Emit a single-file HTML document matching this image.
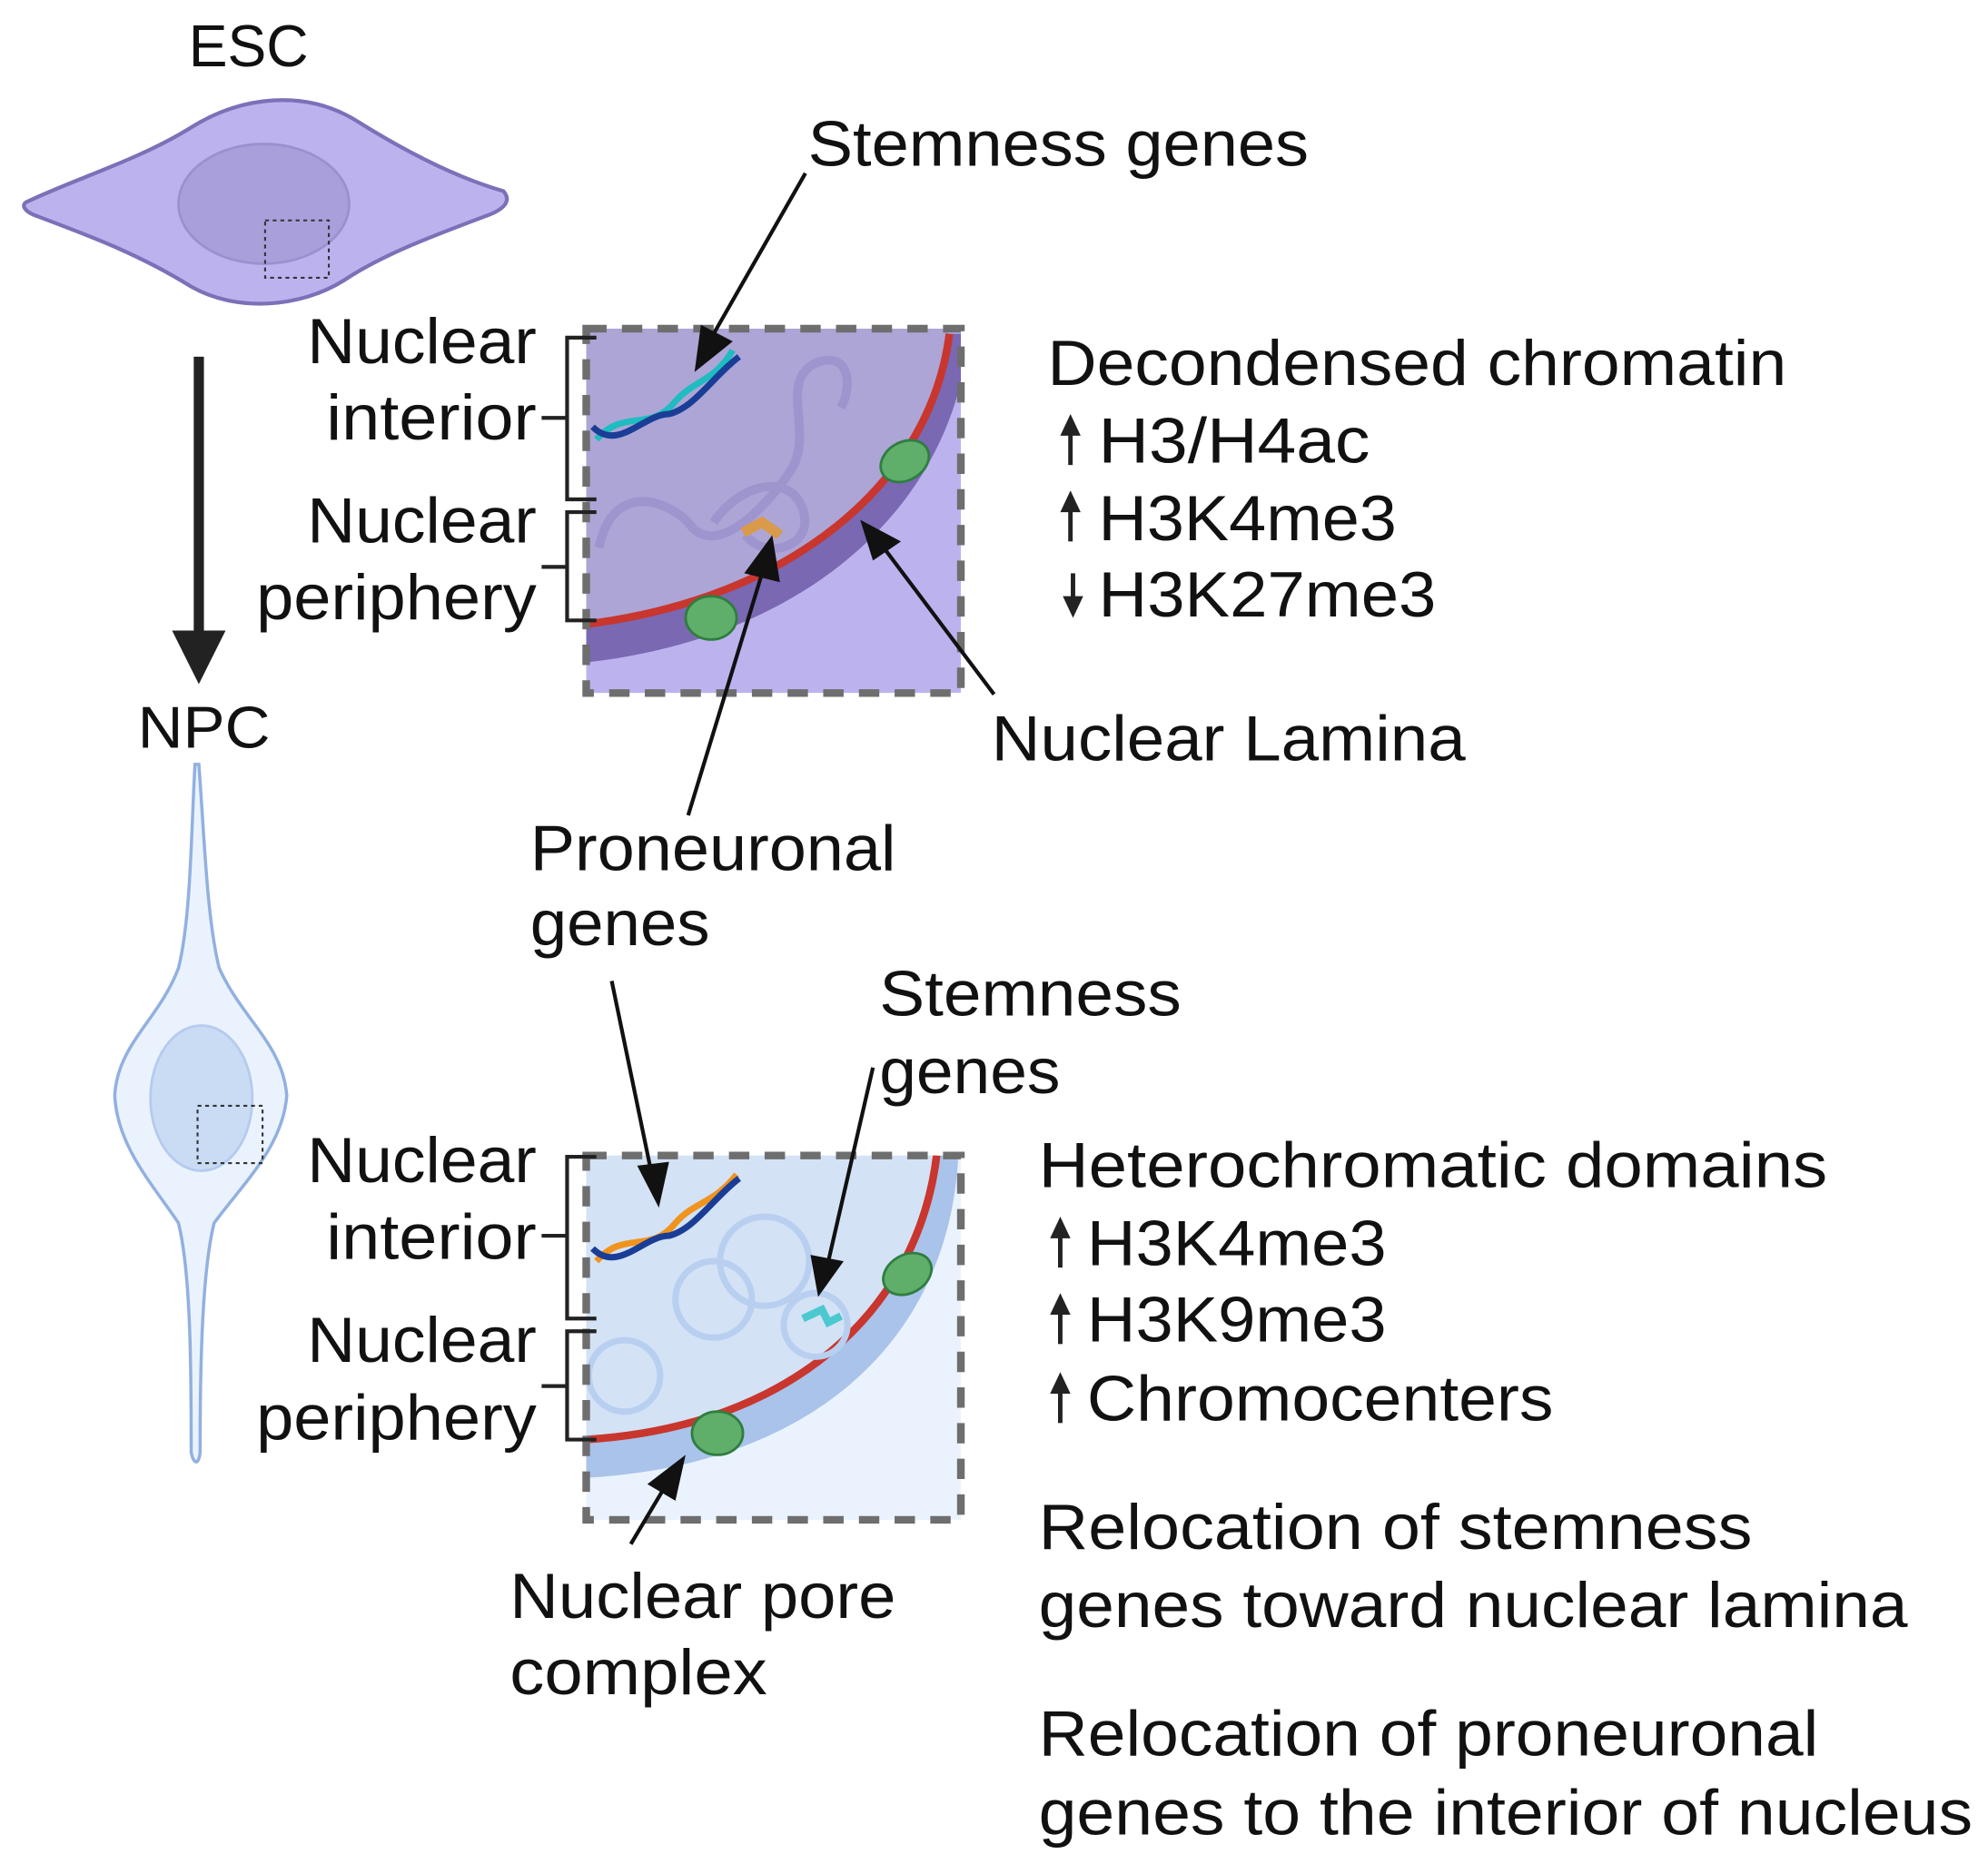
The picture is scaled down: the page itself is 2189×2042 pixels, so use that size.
<!DOCTYPE html>
<html><head><meta charset="utf-8"><style>
html,body{margin:0;padding:0;background:#fff;}
svg{display:block;}
text{font-family:"Liberation Sans",sans-serif;fill:#111;}
</style></head><body>
<svg width="2189" height="2042" viewBox="0 0 1560 1455.3" xmlns="http://www.w3.org/2000/svg">
<defs>
<clipPath id="c1"><rect x="460" y="258" width="294" height="286"/></clipPath>
<clipPath id="c2"><rect x="460" y="907" width="294" height="286"/></clipPath>
</defs>

<!-- ESC -->
<text x="148" y="52" font-size="46" textLength="94" lengthAdjust="spacingAndGlyphs">ESC</text>
<path d="M22,158 C60,140 110,125 150,100 C190,75 240,70 280,95 C320,120 360,140 395,150 C402,158 395,165 380,170 C340,185 300,200 270,220 C235,242 185,245 150,225 C110,200 70,185 30,170 C18,166 16,160 22,158Z" fill="#bcb3ee" stroke="#7d70b8" stroke-width="3"/>
<ellipse cx="207" cy="160" rx="67" ry="47" fill="#a99fdb" stroke="#9b90d0" stroke-width="2"/>
<rect x="208" y="173" width="50" height="45" fill="none" stroke="#333" stroke-width="1.5" stroke-dasharray="3,3"/>

<line x1="156" y1="280" x2="156" y2="500" stroke="#222" stroke-width="8"/>
<polygon points="135,495 177,495 156,537" fill="#222"/>

<text x="108" y="587" font-size="46" textLength="104" lengthAdjust="spacingAndGlyphs">NPC</text>
<path d="M153,600 C150,650 150,720 140,760 C125,800 92,820 90,860 C92,900 120,930 140,960 C150,1000 150,1080 150,1140 C152,1150 156,1150 157,1140 C157,1080 158,1000 168,960 C190,930 222,900 225,860 C222,820 190,800 172,760 C162,720 160,650 156,600Z" fill="#eaf3fd" stroke="#92b0e0" stroke-width="2.5"/>
<ellipse cx="158" cy="862" rx="40" ry="57" fill="#c9dcf4" stroke="#b5cbee" stroke-width="2"/>
<rect x="155" y="868" width="51" height="45" fill="none" stroke="#333" stroke-width="1.5" stroke-dasharray="3,3"/>

<!-- TOP BOX -->
<g clip-path="url(#c1)">
<rect x="460" y="258" width="294" height="286" fill="#bcb3ee"/>
<path d="M460,258 L745,258 C730,380 620,470 460,490Z" fill="#ada5d6"/>
<path d="M460,490 C620,470 730,380 745,262 L760,262 C750,390 640,500 460,520Z" fill="#7a68b3"/>
<path d="M460,490 C620,470 730,380 745,262" fill="none" stroke="#c8362e" stroke-width="6"/>
<path d="M470,430 C480,380 520,390 540,410 C560,440 600,400 620,370 C640,340 610,300 640,285 C665,275 670,300 660,320 M560,410 C580,380 620,370 630,400 C640,430 600,440 585,420" fill="none" stroke="#9a90cc" stroke-width="7" opacity=".8"/>
<path d="M468,345 C490,320 510,340 530,315 C545,298 560,300 575,275" fill="none" stroke="#1fbcc0" stroke-width="5"/>
<path d="M465,335 C485,355 505,325 525,325 C545,320 560,295 580,280" fill="none" stroke="#1a3d96" stroke-width="5"/>
<path d="M583,418 L598,410 L612,420" fill="none" stroke="#d99a4a" stroke-width="8"/>
<g fill="#5fae6a" stroke="#2f7d40" stroke-width="2"><ellipse cx="710" cy="362" rx="20" ry="15" transform="rotate(-30 710 362)"/><ellipse cx="558" cy="485" rx="20" ry="17"/></g>
</g>
<rect x="460" y="258" width="294" height="286" fill="none" stroke="#6e6e6e" stroke-width="6" stroke-dasharray="16,12"/>

<g font-size="50" text-anchor="end" lengthAdjust="spacingAndGlyphs">
<text x="421" y="285" textLength="180" lengthAdjust="spacingAndGlyphs">Nuclear</text>
<text x="421" y="345" textLength="165" lengthAdjust="spacingAndGlyphs">interior</text>
<text x="421" y="426" textLength="180" lengthAdjust="spacingAndGlyphs">Nuclear</text>
<text x="421" y="486" textLength="220" lengthAdjust="spacingAndGlyphs">periphery</text>
</g>
<path d="M468,265 H445 V392 H468 M445,328 H425 M468,402 H445 V487 H468 M445,445 H425" fill="none" stroke="#222" stroke-width="3"/>

<line x1="632" y1="136" x2="560" y2="262" stroke="#111" stroke-width="3"/>
<polygon points="545,292 550,255 575,268" fill="#111"/>
<line x1="540" y1="640" x2="598" y2="450" stroke="#111" stroke-width="3"/>
<polygon points="606,420 584,450 612,457" fill="#111"/>
<line x1="780" y1="545" x2="695" y2="432" stroke="#111" stroke-width="3"/>
<polygon points="675,408 685,440 707,425" fill="#111"/>

<g font-size="50">
<text x="634" y="130" textLength="393" lengthAdjust="spacingAndGlyphs">Stemness genes</text>
<text x="822" y="302" textLength="580" lengthAdjust="spacingAndGlyphs">Decondensed chromatin</text>
<text x="862" y="363" textLength="213" lengthAdjust="spacingAndGlyphs">H3/H4ac</text>
<text x="862" y="424" textLength="234" lengthAdjust="spacingAndGlyphs">H3K4me3</text>
<text x="862" y="484" textLength="265" lengthAdjust="spacingAndGlyphs">H3K27me3</text>
<text x="778" y="597" textLength="372" lengthAdjust="spacingAndGlyphs">Nuclear Lamina</text>
<text x="416" y="683" textLength="287" lengthAdjust="spacingAndGlyphs">Proneuronal</text>
<text x="416" y="742" textLength="141" lengthAdjust="spacingAndGlyphs">genes</text>
<text x="690" y="797" textLength="237" lengthAdjust="spacingAndGlyphs">Stemness</text>
<text x="690" y="858" textLength="142" lengthAdjust="spacingAndGlyphs">genes</text>
</g>
<g fill="#222" stroke="#222" stroke-width="3.5">
<line x1="840" y1="335" x2="840" y2="365"/><polygon points="832,342 848,342 840,325" stroke="none"/>
<line x1="840" y1="395" x2="840" y2="425"/><polygon points="832,402 848,402 840,385" stroke="none"/>
<line x1="842" y1="450" x2="842" y2="475"/><polygon points="834,468 850,468 842,485" stroke="none"/>
</g>

<!-- BOTTOM BOX -->
<g clip-path="url(#c2)">
<rect x="460" y="907" width="294" height="286" fill="#eaf3fd"/>
<path d="M460,907 L735,907 C720,1030 620,1120 460,1130Z" fill="#d3e2f5"/>
<path d="M460,1130 C620,1120 720,1030 735,907 L752,907 C745,1050 640,1150 460,1160Z" fill="#a9c3ea"/>
<path d="M460,1130 C620,1120 720,1030 735,907" fill="none" stroke="#c8362e" stroke-width="6"/>
<g fill="none" stroke="#b8cff0" stroke-width="5"><circle cx="560" cy="1020" r="30"/><circle cx="600" cy="990" r="35"/><circle cx="490" cy="1080" r="28"/><circle cx="640" cy="1040" r="25"/></g>
<path d="M468,990 C490,965 510,985 530,960 C545,943 560,945 578,922" fill="none" stroke="#f0941e" stroke-width="5"/>
<path d="M465,980 C485,1000 505,970 525,970 C545,965 560,940 580,925" fill="none" stroke="#1a3d96" stroke-width="5"/>
<path d="M630,1035 L645,1028 L650,1038 L660,1033" fill="none" stroke="#4cc8cf" stroke-width="6"/>
<g fill="#5fae6a" stroke="#2f7d40" stroke-width="2"><ellipse cx="712" cy="1000" rx="20" ry="15" transform="rotate(-30 712 1000)"/><ellipse cx="563" cy="1125" rx="20" ry="17"/></g>
</g>
<rect x="460" y="907" width="294" height="286" fill="none" stroke="#6e6e6e" stroke-width="6" stroke-dasharray="16,12"/>

<g font-size="50" text-anchor="end">
<text x="421" y="928" textLength="180" lengthAdjust="spacingAndGlyphs">Nuclear</text>
<text x="421" y="988" textLength="165" lengthAdjust="spacingAndGlyphs">interior</text>
<text x="421" y="1069" textLength="180" lengthAdjust="spacingAndGlyphs">Nuclear</text>
<text x="421" y="1130" textLength="220" lengthAdjust="spacingAndGlyphs">periphery</text>
</g>
<path d="M468,908 H445 V1035 H468 M445,970 H425 M468,1045 H445 V1130 H468 M445,1088 H425" fill="none" stroke="#222" stroke-width="3"/>

<line x1="480" y1="770" x2="510" y2="915" stroke="#111" stroke-width="3"/>
<polygon points="517,948 500,915 525,912" fill="#111"/>
<line x1="685" y1="838" x2="650" y2="990" stroke="#111" stroke-width="3"/>
<polygon points="642,1018 636,985 662,990" fill="#111"/>
<line x1="495" y1="1212" x2="520" y2="1170" stroke="#111" stroke-width="3"/>
<polygon points="538,1142 508,1165 530,1178" fill="#111"/>

<g font-size="50">
<text x="815" y="932" textLength="619" lengthAdjust="spacingAndGlyphs">Heterochromatic domains</text>
<text x="853" y="993" textLength="235" lengthAdjust="spacingAndGlyphs">H3K4me3</text>
<text x="853" y="1053" textLength="235" lengthAdjust="spacingAndGlyphs">H3K9me3</text>
<text x="853" y="1115" textLength="366" lengthAdjust="spacingAndGlyphs">Chromocenters</text>
<text x="815" y="1216" textLength="560" lengthAdjust="spacingAndGlyphs">Relocation of stemness</text>
<text x="815" y="1277" textLength="682" lengthAdjust="spacingAndGlyphs">genes toward nuclear lamina</text>
<text x="815" y="1378" textLength="612" lengthAdjust="spacingAndGlyphs">Relocation of proneuronal</text>
<text x="815" y="1440" textLength="733" lengthAdjust="spacingAndGlyphs">genes to the interior of nucleus</text>
<text x="400" y="1270" textLength="303" lengthAdjust="spacingAndGlyphs">Nuclear pore</text>
<text x="400" y="1330" textLength="202" lengthAdjust="spacingAndGlyphs">complex</text>
</g>
<g fill="#222" stroke="#222" stroke-width="3.5">
<line x1="832" y1="965" x2="832" y2="995"/><polygon points="824,972 840,972 832,955" stroke="none"/>
<line x1="832" y1="1025" x2="832" y2="1055"/><polygon points="824,1032 840,1032 832,1015" stroke="none"/>
<line x1="832" y1="1087" x2="832" y2="1117"/><polygon points="824,1094 840,1094 832,1077" stroke="none"/>
</g>
</svg>
</body></html>
